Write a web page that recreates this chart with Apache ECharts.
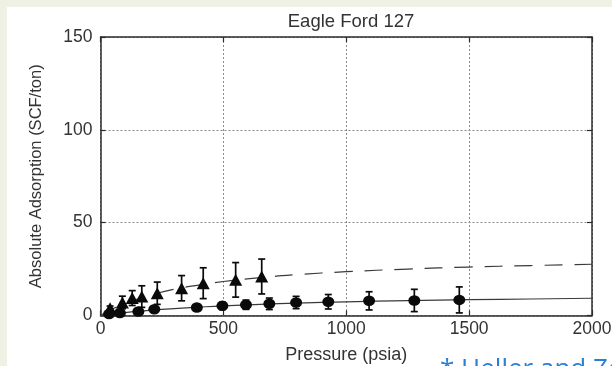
<!DOCTYPE html>
<html>
<head>
<meta charset="utf-8">
<script src="https://cdn.jsdelivr.net/npm/echarts@6/dist/echarts.min.js"></script>
<style>
  html, body { margin: 0; padding: 0; background: #eef1e3; }
  #panel { position: absolute; left: 7px; top: 7px; width: 605px; height: 359px; background: #ffffff; }
  #chart { position: absolute; left: 0; top: 0; width: 612px; height: 366px; }
</style>
</head>
<body>
<div id="panel"></div>
<div id="chart"></div>
<script>
// Eagle Ford 127: absolute adsorption vs. pressure, two gases with error bars and fitted isotherms

// Triangle series (higher adsorption)
const triPressure = [39, 89, 129, 168, 231, 330, 418, 550, 656];
const triValue    = [3.9, 7.0, 9.4, 10.2, 12.0, 14.7, 17.4, 19.2, 21.0];
const triError    = [1.2, 3.4, 4.0, 5.8, 6.0, 6.8, 8.3, 9.3, 9.4];

// Circle series (lower adsorption)
const cirPressure = [35, 79, 154, 219, 392, 496, 592, 687, 796, 927, 1093, 1277, 1460];
const cirValue    = [0.8, 1.3, 2.2, 3.4, 4.3, 5.2, 5.8, 6.3, 7.0, 7.4, 7.9, 8.1, 8.4];
const cirError    = [0.4, 0.5, 0.8, 1.0, 1.5, 2.0, 2.5, 3.1, 3.3, 3.9, 4.9, 6.0, 7.0];

// Fitted curves, sampled along pressure
const fitPressure = [0, 25, 50, 100, 150, 200, 300, 400, 500, 650, 800, 1000, 1250, 1500, 1750, 2000];
const fitDashed   = [0, 1.9, 3.6, 6.5, 8.9, 10.9, 14.1, 16.4, 18.3, 20.4, 22.0, 23.6, 25.0, 26.1, 26.9, 27.6];
const fitSolid    = [0, 0.4, 0.8, 1.55, 2.2, 2.75, 3.7, 4.5, 5.2, 6.0, 6.65, 7.35, 8.0, 8.5, 8.9, 9.3];

// Axis settings
const xTicks = [0, 500, 1000, 1500, 2000];
const yTicks = [0, 50, 100, 150];

const pairs = (xs, ys) => xs.map((x, i) => [x, ys[i]]);
const bars = (xs, ys, es) => xs.map((x, i) => [x, ys[i] - es[i], ys[i] + es[i]]);

const ink = '#0a0a0a';
const axisInk = '#2b2b2b';
const font = '"Liberation Sans", Arial, sans-serif';

function errorBar(params, api) {
  const x = api.value(0);
  const lo = api.coord([x, api.value(1)]);
  const hi = api.coord([x, api.value(2)]);
  const w = 3.5;
  const st = { stroke: ink, lineWidth: 1.7 };
  return {
    type: 'group',
    children: [
      { type: 'line', shape: { x1: lo[0], y1: lo[1], x2: hi[0], y2: hi[1] }, style: st },
      { type: 'line', shape: { x1: hi[0] - w, y1: hi[1], x2: hi[0] + w, y2: hi[1] }, style: st },
      { type: 'line', shape: { x1: lo[0] - w, y1: lo[1], x2: lo[0] + w, y2: lo[1] }, style: st }
    ]
  };
}

const boxAxis = {
  axisLine: { show: true, onZero: false, lineStyle: { color: axisInk, width: 1.5 } },
  axisTick: { show: true, inside: true, length: 5, lineStyle: { color: axisInk, width: 1.2 } }
};

const plain = v => String(v);

const chart = echarts.init(document.getElementById('chart'), null, { renderer: 'canvas' });
chart.setOption({
  animation: false,
  backgroundColor: 'transparent',
  title: {
    text: 'Eagle Ford 127',
    left: 346, top: 7, textAlign: 'center',
    textStyle: { fontFamily: font, fontSize: 18.5, fontWeight: 'normal', color: '#333' }
  },
  grid: { left: 100.5, right: 20, top: 37, bottom: 50.5, containLabel: false, outerBoundsMode: 'none' },
  xAxis: [
    Object.assign({
      type: 'value', min: xTicks[0], max: xTicks[xTicks.length - 1], interval: xTicks[1] - xTicks[0],
      position: 'bottom',
      name: 'Pressure (psia)', nameLocation: 'middle', nameGap: 31,
      nameTextStyle: { fontFamily: font, fontSize: 18, color: '#333' },
      axisLabel: { fontFamily: font, fontSize: 17.5, color: '#333', margin: 5, formatter: plain },
      splitLine: { show: true, lineStyle: { color: '#8a8a8a', width: 1, type: [2, 2] } }
    }, boxAxis),
    Object.assign({
      type: 'value', min: xTicks[0], max: xTicks[xTicks.length - 1], interval: xTicks[1] - xTicks[0],
      position: 'top', axisLabel: { show: false }, splitLine: { show: false }
    }, boxAxis)
  ],
  yAxis: [
    Object.assign({
      type: 'value', min: yTicks[0], max: yTicks[yTicks.length - 1], interval: yTicks[1] - yTicks[0],
      position: 'left',
      name: 'Absolute Adsorption (SCF/ton)', nameLocation: 'middle', nameGap: 56,
      nameTextStyle: { fontFamily: font, fontSize: 16.5, color: '#333' },
      axisLabel: { fontFamily: font, fontSize: 17.5, color: '#333', margin: 8, formatter: plain },
      splitLine: { show: true, lineStyle: { color: '#8a8a8a', width: 1, type: [2, 2] } }
    }, boxAxis),
    Object.assign({
      type: 'value', min: yTicks[0], max: yTicks[yTicks.length - 1], interval: yTicks[1] - yTicks[0],
      position: 'right', axisLabel: { show: false }, splitLine: { show: false }
    }, boxAxis)
  ],
  graphic: [{
    type: 'text', left: 440, top: 357,
    style: { text: '* Heller and Zoback', fontFamily: '"Open Sans", sans-serif', fontSize: 26, fill: '#2a7fd4' }
  }],
  series: [
    {
      type: 'line', data: pairs(fitPressure, fitDashed), showSymbol: false, smooth: true,
      lineStyle: { color: '#3a3a3a', width: 1.2, type: [18, 12] }, z: 2
    },
    {
      type: 'line', data: pairs(fitPressure, fitSolid), showSymbol: false, smooth: true,
      lineStyle: { color: '#3a3a3a', width: 1.2 }, z: 2
    },
    { type: 'custom', renderItem: errorBar, data: bars(triPressure, triValue, triError), z: 3 },
    { type: 'custom', renderItem: errorBar, data: bars(cirPressure, cirValue, cirError), z: 3 },
    {
      type: 'scatter', data: pairs(triPressure, triValue), symbol: 'triangle', symbolSize: [13, 12],
      itemStyle: { color: ink, opacity: 1 }, z: 4
    },
    {
      type: 'scatter', data: pairs(cirPressure, cirValue), symbol: 'circle', symbolSize: [12, 10.5],
      itemStyle: { color: ink, opacity: 1 }, z: 4
    }
  ]
});
</script>
</body>
</html>
